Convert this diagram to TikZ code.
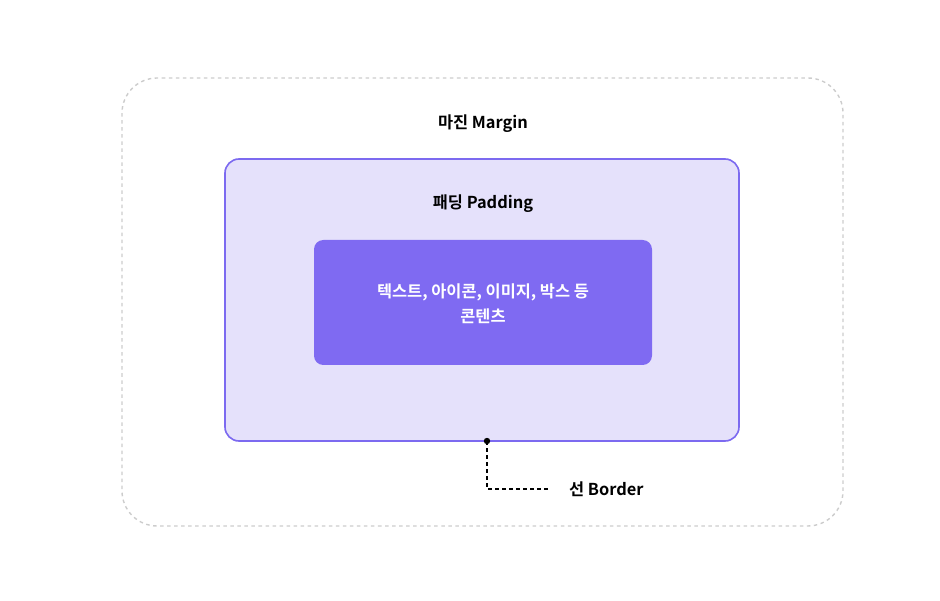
\documentclass[tikz,border=0pt]{standalone}
\usepackage{fontspec}
\newfontfamily\kr{Noto Sans CJK KR}[BoldFont={Noto Sans CJK KR Bold}]
\usetikzlibrary{positioning}
\definecolor{lavender}{HTML}{E5E1FB}
\definecolor{violet}{HTML}{7C6AF0}
\definecolor{content}{HTML}{7F6AF2}
\definecolor{marginline}{HTML}{CCCCCC}
\tikzset{
	boxlabel/.style={font=\kr\bfseries\fontsize{14}{17}\selectfont, text=black},
}
\begin{document}
\begin{tikzpicture}[x=0.03cm, y=-0.03cm]
	\useasboundingbox (0, 0) rectangle (940, 601);
	
	\draw[marginline, dashed, line width=1.2pt, rounded corners=30] (122, 78) rectangle (843, 526);
	\node[boxlabel] (margin) at (483, 124) {마진 Margin};
	
	\draw[violet, fill=lavender, line width=1.4pt, rounded corners=12] (225, 159) rectangle (739, 441);
	\node[boxlabel] (padding) at (483, 204) {패딩 Padding};
	
	\fill[content, rounded corners=8] (314, 240) rectangle (652, 365);
	\node[boxlabel, text=white, align=center] (text) at (483, 304) {텍스트, 아이콘, 이미지, 박스 등\\[4pt]콘텐츠};
	
	\coordinate (edge) at (487, 441);
	\coordinate (bend) at (487, 489);
	\node[boxlabel, anchor=west] (border) at (565, 489) {선 Border};
	\fill (edge) circle (3.2);
	\draw[dashed, line width=1.2pt] (edge) -- (bend) -- ([xshift=-12]border.west);
\end{tikzpicture}
\end{document}
